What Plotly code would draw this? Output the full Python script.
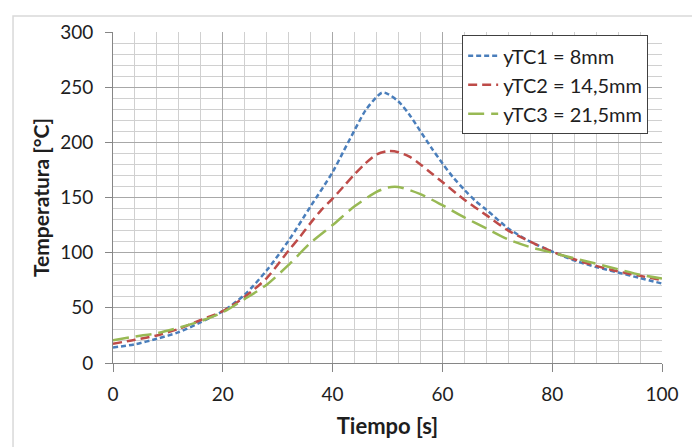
import plotly.graph_objects as go

# ---- data ----
t_tc1 = [0, 4, 8, 12, 16, 20, 24, 28, 32, 36, 40, 42, 44, 46, 48, 49, 50, 52, 54, 56, 58, 60, 62, 64, 66, 68, 72, 76, 80, 84, 88, 92, 96, 100]
T_tc1 = [14, 17, 22, 28, 37, 47, 62, 84, 111, 142, 173, 192, 211, 229, 241, 245, 244, 237, 225, 210, 195, 181, 168, 157, 147, 139, 122, 110, 101, 93, 87, 82, 77, 72]

t_tc2 = [0, 4, 8, 12, 16, 20, 24, 28, 32, 34, 36, 38, 40, 42, 44, 46, 48, 50, 52, 54, 56, 58, 60, 64, 68, 72, 76, 80, 84, 88, 92, 96, 100]
T_tc2 = [17.5, 21, 25, 31, 39, 47, 60, 77, 102, 114, 127, 139, 149, 160, 171, 181, 189, 192, 191, 187, 180, 172, 164, 148, 134, 120, 110, 101, 94, 88, 83, 79, 75]

t_tc3 = [0, 4, 8, 12, 16, 20, 24, 28, 32, 36, 40, 44, 48, 50, 52, 56, 60, 64, 68, 72, 76, 80, 84, 88, 92, 96, 100]
T_tc3 = [20.5, 24, 27, 32, 38, 46, 58, 71, 89, 109, 125, 142, 155, 159, 159.5, 153, 143, 132, 122, 112, 105, 100, 95, 90, 85, 80, 76.6]

names = ["yTC1 = 8mm", "yTC2 = 14,5mm", "yTC3 = 21,5mm"]
colors = ["#4a7ebb", "#be4b48", "#98b954"]
dashes = ["5px,3px", "9px,5px", "16px,7px"]

FONT = "Lato"
TXT = "#1e1e1e"

fig = go.Figure()
for i, (tx, ty) in enumerate([(t_tc1, T_tc1), (t_tc2, T_tc2), (t_tc3, T_tc3)]):
    fig.add_trace(go.Scatter(
        x=tx, y=ty, mode="lines", name=names[i],
        line=dict(color=colors[i], width=2.5, dash=dashes[i], shape="spline", smoothing=0.8),
    ))

# page body adds an 8px offset, so the figure is 692x439 and margins are shifted by 8px
fig.update_layout(
    width=692, height=439,
    margin=dict(l=105, r=38, t=17, b=84),
    paper_bgcolor="white", plot_bgcolor="white",
    font=dict(family=FONT, size=19, color=TXT),
    showlegend=True,
    legend=dict(
        x=0.636, y=0.99, xanchor="left", yanchor="top",
        bgcolor="white", bordercolor="#404040", borderwidth=1,
        font=dict(family=FONT, size=20, color=TXT),
    ),
    shapes=[dict(type="rect", xref="paper", yref="paper",
                 x0=-0.1821, x1=1.0565, y0=-0.3, y1=1.048,
                 line=dict(color="#d9d9d9", width=1.5), layer="below")],
)

fig.update_xaxes(
    range=[0, 100], dtick=20, tick0=0,
    showgrid=True, gridcolor="#a8a8a8", gridwidth=1,
    minor=dict(dtick=4, showgrid=True, gridcolor="#d0d0d0", gridwidth=1, ticks=""),
    showline=True, linecolor="#868686", linewidth=1,
    ticks="outside", ticklen=8, tickcolor="#868686",
    ticklabelstandoff=6,
    zeroline=False,
    title=dict(text="<b>Tiempo [s]</b>", font=dict(family=FONT, size=22, color=TXT), standoff=14),
)
fig.update_yaxes(
    range=[0, 300], dtick=50, tick0=0,
    showgrid=True, gridcolor="#a8a8a8", gridwidth=1,
    minor=dict(dtick=10, showgrid=True, gridcolor="#d0d0d0", gridwidth=1, ticks=""),
    showline=True, linecolor="#868686", linewidth=1,
    ticks="outside", ticklen=7, tickcolor="#868686",
    ticklabelstandoff=8,
    zeroline=False,
    title=dict(text="<b>Temperatura [°C]</b>", font=dict(family=FONT, size=21, color=TXT), standoff=4),
)

fig.write_html("out.html")
